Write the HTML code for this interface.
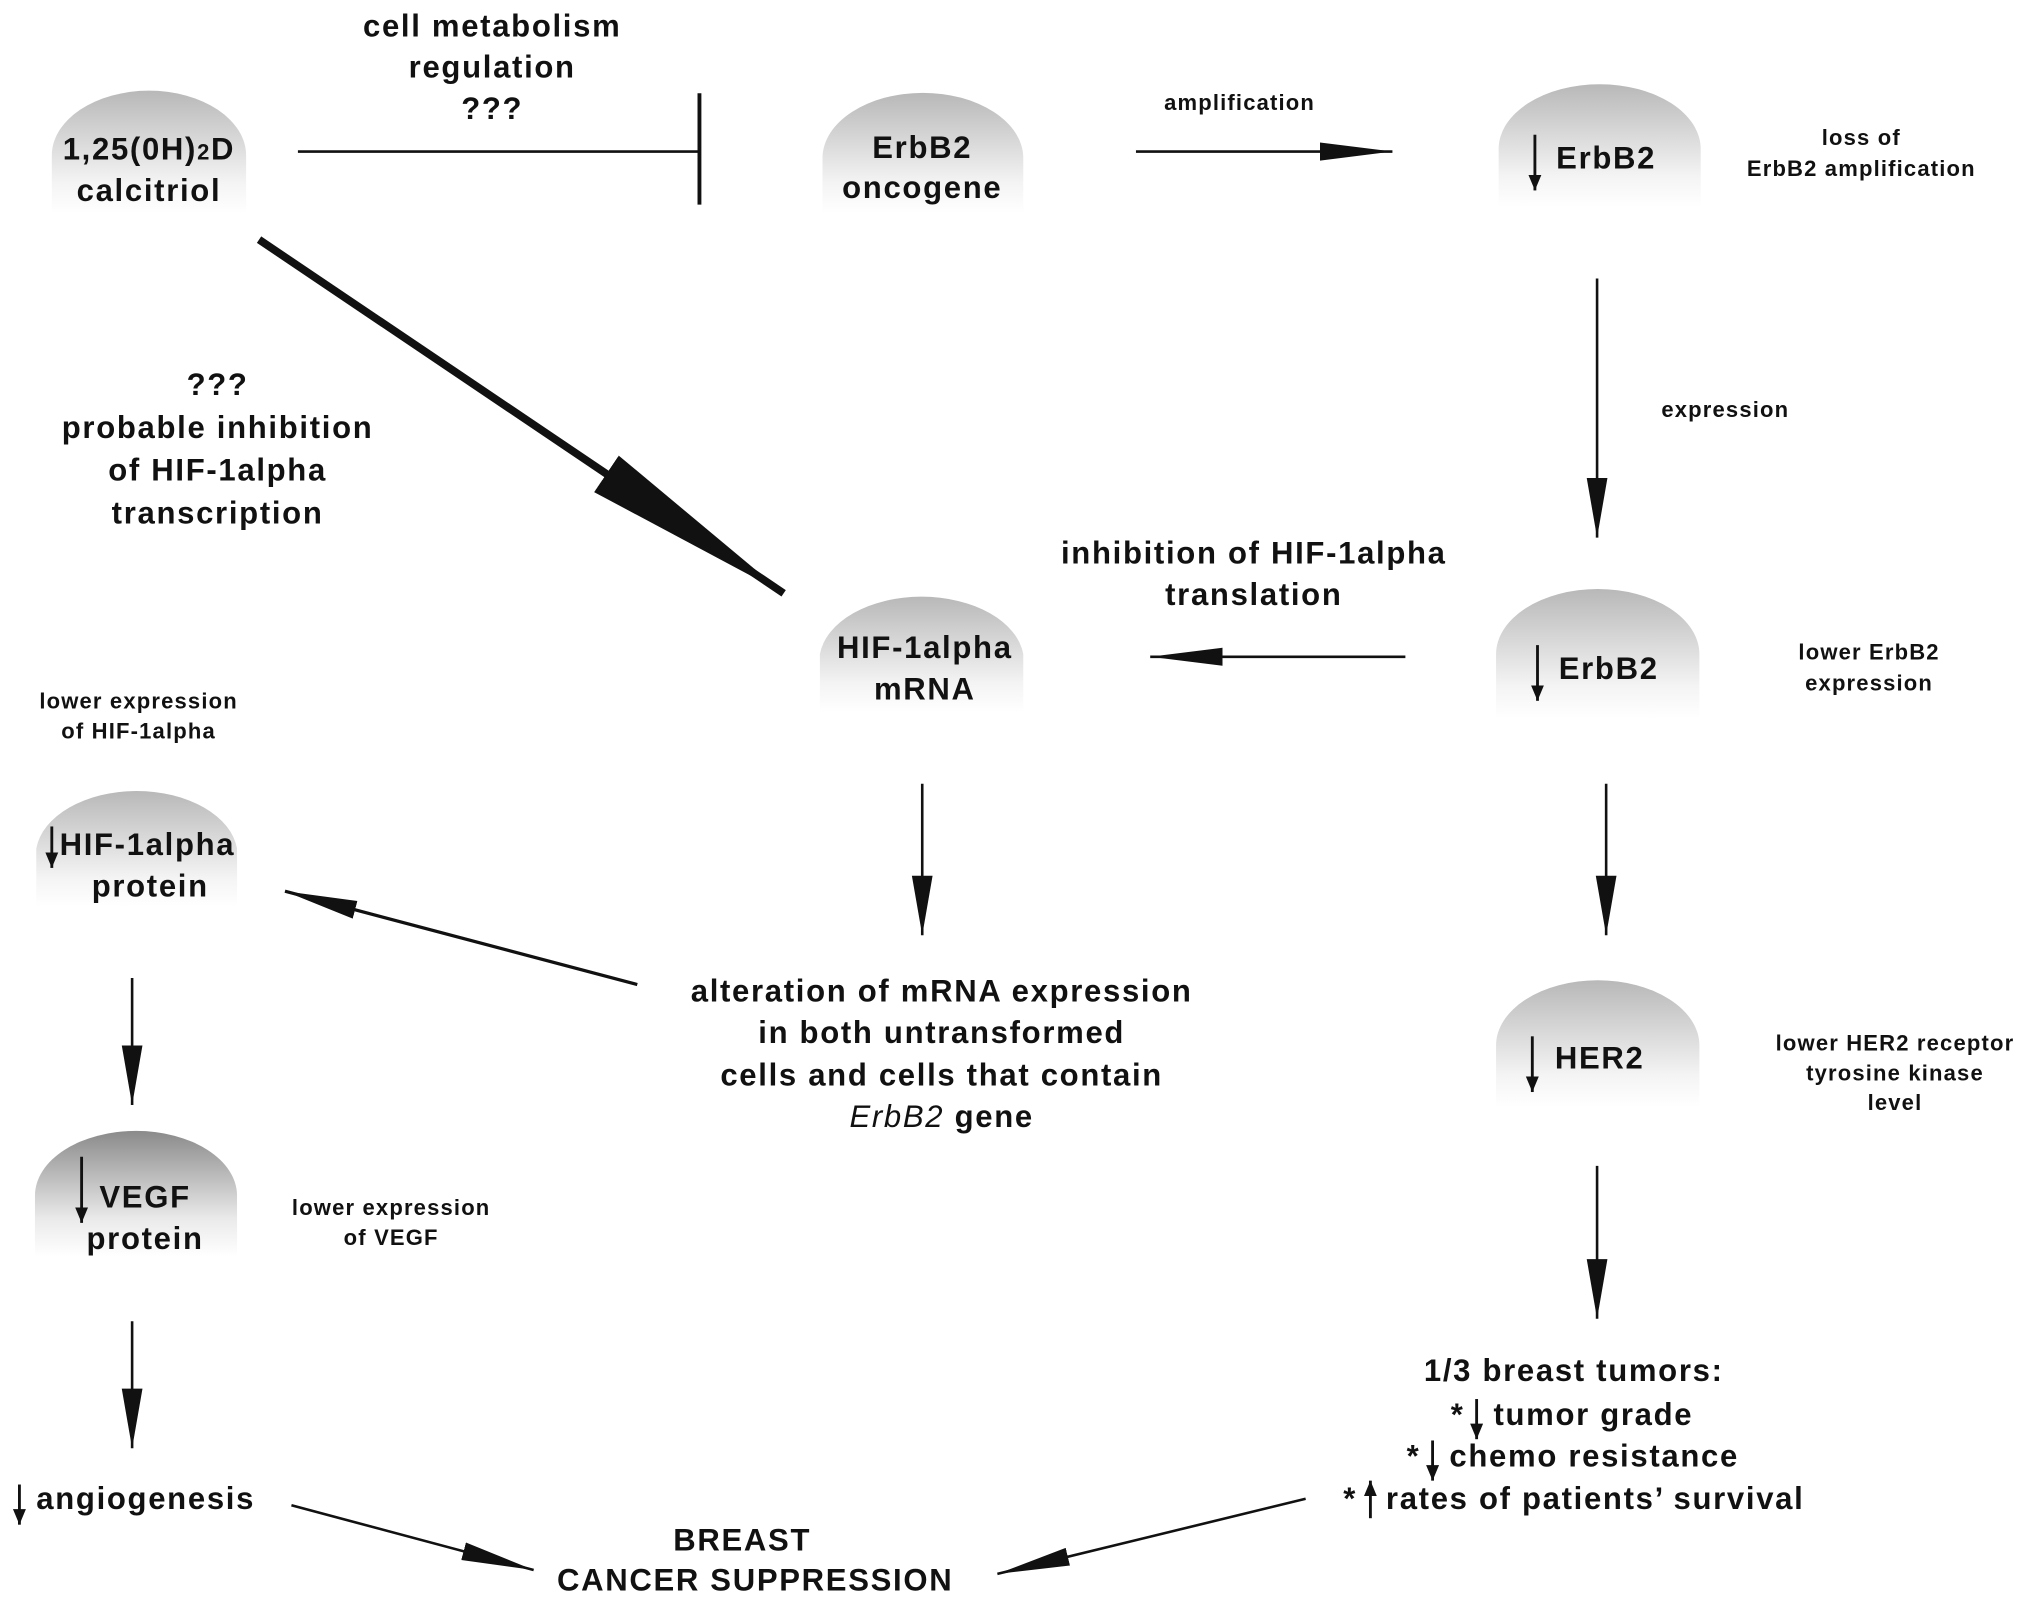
<!DOCTYPE html>
<html><head><meta charset="utf-8">
<style>
html,body{margin:0;padding:0;background:#fff;}
svg{display:block;}
text{font-family:"Liberation Sans","DejaVu Sans",sans-serif;font-weight:bold;fill:#111;text-anchor:middle;}
.b{font-size:24px;letter-spacing:1.3px;}
.s{font-size:17px;letter-spacing:0.9px;}
.l{text-anchor:start;}
</style></head><body>
<svg width="2031" height="1605" viewBox="0 0 1568 1239" preserveAspectRatio="none" xmlns="http://www.w3.org/2000/svg">
<defs>
<linearGradient id="g" x1="0" y1="0" x2="0" y2="1">
<stop offset="0" stop-color="#b8b8b8"/><stop offset="0.75" stop-color="#f4f4f4"/><stop offset="1" stop-color="#fff"/>
</linearGradient>
<linearGradient id="g2" x1="0" y1="0" x2="0" y2="1">
<stop offset="0" stop-color="#8a8a8a"/><stop offset="0.7" stop-color="#eaeaea"/><stop offset="1" stop-color="#fff"/>
</linearGradient>
<marker id="a" markerUnits="userSpaceOnUse" markerWidth="60" markerHeight="20" refX="56" refY="8" orient="auto">
<path d="M0,1 L56,8 L0,15 Z" fill="#111"/>
</marker>
<marker id="av" markerUnits="userSpaceOnUse" markerWidth="50" markerHeight="20" refX="46" refY="8" orient="auto">
<path d="M0,0 L46,8 L0,16 Z" fill="#111"/>
</marker>
<marker id="sm" markerUnits="userSpaceOnUse" markerWidth="14" markerHeight="12" refX="12" refY="5" orient="auto">
<path d="M0,0 L12,5 L0,10 Z" fill="#111"/>
</marker>
<marker id="big" markerUnits="userSpaceOnUse" markerWidth="170" markerHeight="50" refX="165" refY="25" orient="auto">
<path d="M0,8 L165,25 L0,42 Z" fill="#111"/>
</marker>
</defs>

<!-- blobs -->
<path d="M40,165 L40,120 A75,50 0 0 1 190,120 L190,165 Z" fill="url(#g)"/>
<path d="M635,165 L635,122 A77,50 0 0 1 790,122 L790,165 Z" fill="url(#g)"/>
<path d="M1157,160 L1157,115 A78,50 0 0 1 1313,115 L1313,160 Z" fill="url(#g)"/>
<path d="M633,550 L633,505 A79,50 0 0 1 790,505 L790,550 Z" fill="url(#g)"/>
<path d="M1155,555 L1155,505 A78,50 0 0 1 1312,505 L1312,555 Z" fill="url(#g)"/>
<path d="M28,700 L28,655 A78,50 0 0 1 183,655 L183,700 Z" fill="url(#g)"/>
<path d="M27,970 L27,923 A78,50 0 0 1 183,923 L183,970 Z" fill="url(#g2)"/>
<path d="M1155,855 L1155,807 A78,50 0 0 1 1312,807 L1312,855 Z" fill="url(#g)"/>

<!-- connectors -->
<line x1="230" y1="117" x2="540" y2="117" stroke="#111" stroke-width="2"/>
<line x1="540" y1="72" x2="540" y2="158" stroke="#111" stroke-width="3"/>
<line x1="877" y1="117" x2="1075" y2="117" stroke="#111" stroke-width="2" marker-end="url(#a)"/>
<line x1="200" y1="185" x2="605" y2="458" stroke="#111" stroke-width="6" marker-end="url(#big)"/>
<line x1="1233" y1="215" x2="1233" y2="415" stroke="#111" stroke-width="2" marker-end="url(#av)"/>
<line x1="1085" y1="507" x2="888" y2="507" stroke="#111" stroke-width="2" marker-end="url(#a)"/>
<line x1="712" y1="605" x2="712" y2="722" stroke="#111" stroke-width="2" marker-end="url(#av)"/>
<line x1="1240" y1="605" x2="1240" y2="722" stroke="#111" stroke-width="2" marker-end="url(#av)"/>
<line x1="492" y1="760" x2="220" y2="688" stroke="#111" stroke-width="2.5" marker-end="url(#a)"/>
<line x1="102" y1="755" x2="102" y2="853" stroke="#111" stroke-width="2" marker-end="url(#av)"/>
<line x1="102" y1="1020" x2="102" y2="1118" stroke="#111" stroke-width="2" marker-end="url(#av)"/>
<line x1="1233" y1="900" x2="1233" y2="1018" stroke="#111" stroke-width="2" marker-end="url(#av)"/>
<line x1="225" y1="1162" x2="412" y2="1212" stroke="#111" stroke-width="2" marker-end="url(#a)"/>
<line x1="1008" y1="1157" x2="770" y2="1215" stroke="#111" stroke-width="2" marker-end="url(#a)"/>

<!-- small drawn arrows -->
<g stroke="#111" stroke-width="2.2">
<line x1="1185" y1="104" x2="1185" y2="147" marker-end="url(#sm)"/>
<line x1="1187" y1="498" x2="1187" y2="541" marker-end="url(#sm)"/>
<line x1="40" y1="638" x2="40" y2="670" marker-end="url(#sm)"/>
<line x1="63" y1="893" x2="63" y2="944" marker-end="url(#sm)"/>
<line x1="1183" y1="800" x2="1183" y2="843" marker-end="url(#sm)"/>
<line x1="15" y1="1146" x2="15" y2="1177" marker-end="url(#sm)"/>
<line x1="1140" y1="1080" x2="1140" y2="1111" marker-end="url(#sm)"/>
<line x1="1106" y1="1112" x2="1106" y2="1143" marker-end="url(#sm)"/>
<line x1="1058" y1="1172" x2="1058" y2="1143" marker-end="url(#sm)"/>
</g>

<!-- texts -->
<text class="b" x="115" y="123">1,25(0H)<tspan font-size="17">2</tspan>D</text>
<text class="b" x="115" y="155">calcitriol</text>
<text class="b" x="712" y="122">ErbB2</text>
<text class="b" x="712" y="153">oncogene</text>
<text class="b" x="380" y="28">cell metabolism</text>
<text class="b" x="380" y="60">regulation</text>
<text class="b" x="380" y="92">???</text>
<text class="s" x="957" y="85">amplification</text>
<text class="b" x="1240" y="130">ErbB2</text>
<text class="s" x="1437" y="112">loss of</text>
<text class="s" x="1437" y="136">ErbB2 amplification</text>
<text class="s" x="1332" y="322">expression</text>
<text class="b" x="168" y="305">???</text>
<text class="b" x="168" y="338">probable inhibition</text>
<text class="b" x="168" y="371">of HIF-1alpha</text>
<text class="b" x="168" y="404">transcription</text>
<text class="b" x="968" y="435">inhibition of HIF-1alpha</text>
<text class="b" x="968" y="467">translation</text>
<text class="b" x="714" y="508">HIF-1alpha</text>
<text class="b" x="714" y="540">mRNA</text>
<text class="b" x="1242" y="524">ErbB2</text>
<text class="s" x="1443" y="509">lower ErbB2</text>
<text class="s" x="1443" y="533">expression</text>
<text class="s" x="107" y="547">lower expression</text>
<text class="s" x="107" y="570">of HIF-1alpha</text>
<text class="b l" x="46" y="660">HIF-1alpha</text>
<text class="b" x="116" y="692">protein</text>
<text class="b" x="727" y="773">alteration of mRNA expression</text>
<text class="b" x="727" y="805">in both untransformed</text>
<text class="b" x="727" y="838">cells and cells that contain</text>
<text class="b" x="727" y="870"><tspan font-style="italic" font-weight="normal">ErbB2</tspan> gene</text>
<text class="b" x="1235" y="825">HER2</text>
<text class="s" x="1463" y="811">lower HER2 receptor</text>
<text class="s" x="1463" y="834">tyrosine kinase</text>
<text class="s" x="1463" y="857">level</text>
<text class="b" x="112" y="932">VEGF</text>
<text class="b" x="112" y="964">protein</text>
<text class="s" x="302" y="938">lower expression</text>
<text class="s" x="302" y="961">of VEGF</text>
<text class="b l" x="28" y="1165">angiogenesis</text>
<text class="b" x="1215" y="1066">1/3 breast tumors:</text>
<text class="b l" x="1120" y="1100">*</text><text class="b l" x="1153" y="1100">tumor grade</text>
<text class="b l" x="1086" y="1132">*</text><text class="b l" x="1119" y="1132">chemo resistance</text>
<text class="b l" x="1037" y="1165">*</text><text class="b l" x="1070" y="1165">rates of patients’ survival</text>
<text class="b" x="573" y="1197">BREAST</text>
<text class="b" x="583" y="1228">CANCER SUPPRESSION</text>
</svg>
</body></html>
